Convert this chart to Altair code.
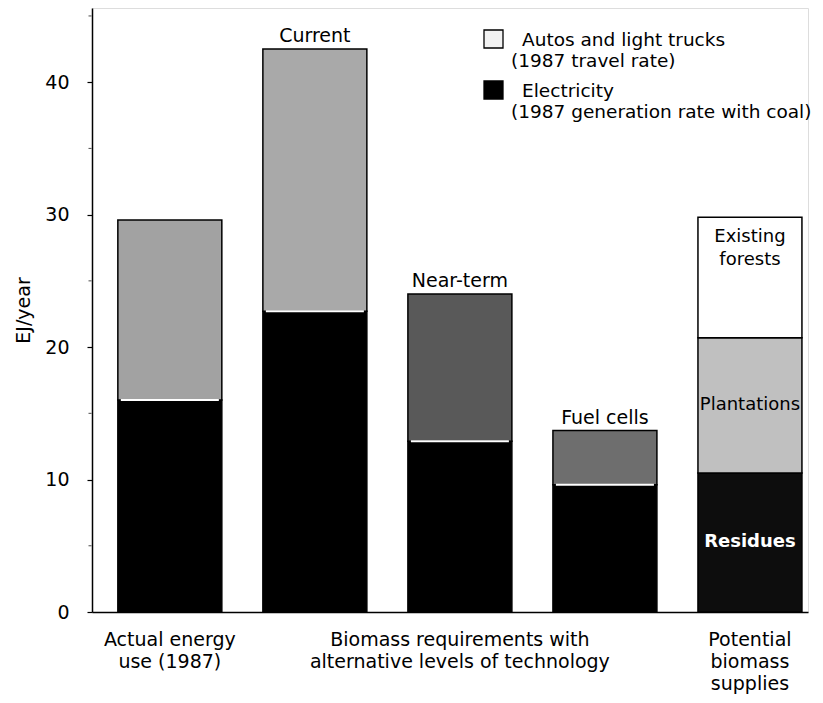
import altair as alt
import pandas as pd

# ---- data ----
categories = ["Actual energy use", "Current", "Near-term", "Fuel cells", "Potential supplies"]
electricity = [16.0, 22.7, 12.9, 9.6]
autos = [13.6, 19.8, 11.1, 4.1]
autos_fill = ["#a2a2a2", "#a9a9a9", "#595959", "#6e6e6e"]
supply_segments = ["Residues", "Plantations", "Existing forests"]
supply_values = [10.5, 10.2, 9.1]
supply_fill = ["#0d0d0d", "#c0c0c0", "#ffffff"]
supply_text = ["Residues", "Plantations", "Existing\nforests"]
supply_text_color = ["#ffffff", "#000000", "#000000"]
top_labels = ["", "Current", "Near-term", "Fuel cells", ""]
bottom_labels = ["Actual energy\nuse (1987)", "", "Biomass requirements with\nalternative levels of technology", "", "Potential\nbiomass\nsupplies"]
legend_titles = ["Autos and light trucks", "Electricity"]
legend_subtitles = ["(1987 travel rate)", "(1987 generation rate with coal)"]
legend_fill = ["#f2f2f2", "#000000"]
y_ticks = [0, 10, 20, 30, 40]
y_minor_ticks = [5, 15, 25, 35, 45]

rows = []
for i, c in enumerate(categories[:4]):
    rows.append(dict(cat=c, seg="Electricity", start=0.0, end=electricity[i], fill="#000000"))
    rows.append(dict(cat=c, seg="Autos", start=electricity[i], end=electricity[i] + autos[i], fill=autos_fill[i]))
acc = 0.0
txt_rows = []
for s, v, f, t, tc in zip(supply_segments, supply_values, supply_fill, supply_text, supply_text_color):
    rows.append(dict(cat=categories[4], seg=s, start=acc, end=acc + v, fill=f))
    txt_rows.append(dict(cat=categories[4], seg=s, mid=acc + v / 2, end=acc + v, text=t, tc=tc))
    acc += v
bars_df = pd.DataFrame(rows)
seg_txt_df = pd.DataFrame(txt_rows)
sep_df = pd.DataFrame(dict(cat=categories[:4], val=electricity))

totals = [electricity[i] + autos[i] for i in range(4)] + [acc]
top_df = pd.DataFrame(dict(cat=categories, total=totals, label=top_labels))
top_df = top_df[top_df.label != ""]
bot_df = pd.DataFrame(dict(cat=categories, label=bottom_labels))
bot_df = bot_df[bot_df.label != ""]

FONT = "DejaVu Sans"
FS = 19
LFS = 18.5
W, H = 716, 604
YMAX = 45.6

xscale = alt.Scale(domain=categories, paddingInner=0.283, paddingOuter=0.11, align=0.81)
xs = alt.X("cat:N", sort=categories, scale=xscale,
           axis=alt.Axis(labels=False, ticks=False, title=None, domainColor="#000", domainWidth=1.5))
yscale = alt.Scale(domain=[0, YMAX], nice=False)
ys = alt.Y("start:Q", scale=yscale,
           axis=alt.Axis(values=y_ticks, title="EJ/year", titleFont=FONT, titleFontSize=FS,
                         titleFontWeight="normal", titleColor="#000", titlePadding=11,
                         labelFont=FONT, labelFontSize=FS, labelColor="#000", labelPadding=18,
                         tickColor="#000", tickSize=5, tickWidth=1.2, domainColor="#000", domainWidth=1.5,
                         grid=False))

bars = alt.Chart(bars_df).mark_bar(stroke="#000", strokeWidth=1.5).encode(
    x=xs, y=ys, y2="end:Q", color=alt.Color("fill:N", scale=None)
)

sep = alt.Chart(sep_df).mark_tick(color="#ffffff", thickness=2, size=98, opacity=1).encode(
    x=alt.X("cat:N", sort=categories), y=alt.Y("val:Q")
)

minor = alt.Chart(pd.DataFrame(dict(v=y_minor_ticks))).mark_tick(color="#000", thickness=1, size=3).encode(
    x=alt.value(-2), y=alt.Y("v:Q")
)

res_text = alt.Chart(seg_txt_df).transform_filter(
    alt.datum.seg == "Residues"
).mark_text(font=FONT, fontSize=18, fontWeight="bold").encode(
    x=alt.X("cat:N", sort=categories), y=alt.Y("mid:Q"), text="text:N",
    color=alt.Color("tc:N", scale=None)
)

pl_text = alt.Chart(seg_txt_df).transform_filter(
    alt.datum.seg == "Plantations"
).mark_text(font=FONT, fontSize=18).encode(
    x=alt.X("cat:N", sort=categories), y=alt.Y("mid:Q"), text="text:N",
    color=alt.Color("tc:N", scale=None)
)

forest_text = alt.Chart(seg_txt_df).transform_filter(
    alt.datum.seg == "Existing forests"
).mark_text(font=FONT, fontSize=18, baseline="top", dy=11, lineBreak="\n", lineHeight=23).encode(
    x=alt.X("cat:N", sort=categories), y=alt.Y("end:Q"), text="text:N",
    color=alt.Color("tc:N", scale=None)
)

top_text = alt.Chart(top_df).mark_text(font=FONT, fontSize=FS, baseline="alphabetic", dy=-7).encode(
    x=alt.X("cat:N", sort=categories), y=alt.Y("total:Q"), text="label:N", color=alt.value("#000")
)

bot_text = alt.Chart(bot_df).mark_text(font=FONT, fontSize=FS, baseline="alphabetic", lineBreak="\n",
                                       lineHeight=22, align="center").encode(
    x=alt.X("cat:N", sort=categories), y=alt.value(H + 34), text="label:N", color=alt.value("#000")
)

leg_layers = []
for i, (t, st, f) in enumerate(zip(legend_titles, legend_subtitles, legend_fill)):
    y0 = 22 + i * 51
    one = pd.DataFrame(dict(title=[t], sub=[st], fill=[f]))
    leg_layers.append(
        alt.Chart(one).mark_rect(stroke="#000", strokeWidth=1.3).encode(
            x=alt.value(392), x2=alt.value(411), y=alt.value(y0), y2=alt.value(y0 + 18),
            color=alt.Color("fill:N", scale=None)
        )
    )
    leg_layers.append(
        alt.Chart(one).mark_text(font=FONT, fontSize=LFS, align="left", baseline="alphabetic").encode(
            x=alt.value(430), y=alt.value(y0 + 16), text="title:N", color=alt.value("#000")
        )
    )
    leg_layers.append(
        alt.Chart(one).mark_text(font=FONT, fontSize=LFS, align="left", baseline="alphabetic").encode(
            x=alt.value(419), y=alt.value(y0 + 37), text="sub:N", color=alt.value("#000")
        )
    )

chart = alt.layer(bars, sep, minor, res_text, pl_text, forest_text, top_text, bot_text, *leg_layers).properties(
    width=W, height=H, padding={"left": 6, "top": 0, "right": 0, "bottom": 0}
).configure_view(stroke=None).configure(background="#ffffff")

chart.save("out.html", embed_options={"renderer": "svg", "actions": False})
